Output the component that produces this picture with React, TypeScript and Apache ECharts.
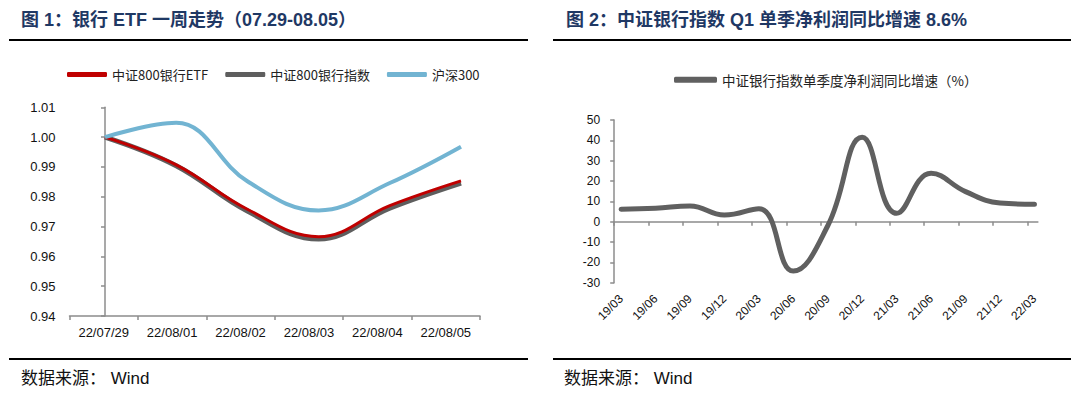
import React, { useEffect, useRef } from "react";
import * as echarts from "echarts";

// ---- Figure 1 data ----
const dates = ["22/07/29", "22/08/01", "22/08/02", "22/08/03", "22/08/04", "22/08/05"];
const etfValues = [1.0, 0.9907, 0.9758, 0.9666, 0.977, 0.9853];
const indexValues = [1.0, 0.9904, 0.9752, 0.9658, 0.9762, 0.9846];
const hs300Values = [1.0, 1.0048, 0.9852, 0.9754, 0.9846, 0.9968];

// ---- Figure 2 data ----
const quarters = ["19/03", "19/06", "19/09", "19/12", "20/03", "20/06", "20/09", "20/12", "21/03", "21/06", "21/09", "21/12", "22/03"];
const profitGrowth = [6.1, 6.6, 7.7, 3.3, 6.4, -24.3, -2.0, 41.5, 4.1, 23.8, 14.8, 9.2, 8.6];

const seriesNames = ["中证800银行ETF", "中证800银行指数", "沪深300"];
const rightSeriesName = "中证银行指数单季度净利润同比增速（%）";

const FONT = "'Liberation Sans', Arial, 'Noto Sans CJK SC', sans-serif";
const CJK = "'Noto Sans CJK SC', 'Liberation Sans', sans-serif";

export default function App() {
  const ref = useRef<HTMLDivElement>(null);

  useEffect(() => {
    document.body.style.margin = "0";
    const chart = echarts.init(ref.current!, undefined, { renderer: "svg" });

    const tickPos = quarters.map((_, i) => i - 0.2);
    const labelPos = quarters.map((_, i) => i);
    const axisGray = "#8c8c8c";

    const leftSeries = (name: string, values: number[], color: string, width: number, z: number) => ({
      name,
      type: "line",
      xAxisIndex: 3,
      yAxisIndex: 0,
      data: values.map((v, i) => [i, v]),
      smooth: 0.4,
      symbol: "none",
      color,
      lineStyle: { width, color },
      z,
    });

    const option: any = {
      animation: false,
      backgroundColor: "#ffffff",
      textStyle: { fontFamily: FONT },
      legend: [
        {
          data: seriesNames,
          left: 62,
          top: 63,
          icon: "roundRect",
          itemWidth: 40,
          itemHeight: 5,
          itemGap: 17,
          textStyle: { fontSize: 13, color: "#222", fontFamily: CJK },
        },
        {
          data: [rightSeriesName],
          left: 669,
          top: 68,
          icon: "roundRect",
          itemWidth: 43,
          itemHeight: 6,
          textStyle: { fontSize: 13.5, color: "#222", fontFamily: CJK },
        },
      ],
      grid: [
        { left: 69.5, top: 107.3, width: 410.5, height: 208.7 },
        { left: 614.2, top: 120, width: 423.7, height: 162.7 },
      ],
      xAxis: [
        {
          type: "category",
          gridIndex: 0,
          data: dates,
          boundaryGap: true,
          axisLine: { lineStyle: { color: axisGray, width: 1.5 } },
          axisTick: { show: true, length: 4, lineStyle: { color: axisGray, width: 1.5 } },
          axisLabel: { fontSize: 13, color: "#111", margin: 10, fontFamily: FONT },
          splitLine: { show: false },
        },
        {
          type: "value",
          gridIndex: 1,
          min: -0.2,
          max: 12.1,
          axisLine: { show: true, onZero: true, lineStyle: { color: axisGray, width: 1.5 } },
          axisTick: { show: true, length: 4, customValues: tickPos, lineStyle: { color: axisGray, width: 1.5 } },
          axisLabel: { show: false },
          splitLine: { show: false },
        },
        {
          type: "value",
          gridIndex: 1,
          min: -0.2,
          max: 12.1,
          position: "bottom",
          axisLine: { show: false, onZero: false },
          axisTick: { show: false },
          axisLabel: {
            show: true,
            customValues: labelPos,
            formatter: (v: number) => quarters[Math.round(v)] ?? "",
            rotate: 45,
            fontSize: 12,
            color: "#111",
            margin: 14,
            fontFamily: FONT,
          },
          splitLine: { show: false },
        },
        {
          type: "value",
          gridIndex: 0,
          show: false,
          min: -0.4986,
          max: 5.267,
          splitLine: { show: false },
        },
      ],
      yAxis: [
        {
          type: "value",
          gridIndex: 0,
          min: 0.94,
          max: 1.01,
          interval: 0.01,
          axisLine: { show: true, lineStyle: { color: axisGray, width: 1.5 } },
          axisTick: { show: true, length: 4, lineStyle: { color: axisGray, width: 1.5 } },
          axisLabel: { fontSize: 13, color: "#111", margin: 14, formatter: (v: number) => v.toFixed(2), fontFamily: FONT },
          splitLine: { show: false },
        },
        {
          type: "value",
          gridIndex: 1,
          min: -30,
          max: 50,
          interval: 10,
          axisLine: { show: true, onZero: false, lineStyle: { color: axisGray, width: 1.5 } },
          axisTick: { show: true, length: 4, lineStyle: { color: axisGray, width: 1.5 } },
          axisLabel: { fontSize: 12, color: "#111", margin: 14, fontFamily: FONT },
          splitLine: { show: false },
        },
      ],
      series: [
        leftSeries(seriesNames[1], indexValues, "#5e5e5e", 5, 2),
        leftSeries(seriesNames[0], etfValues, "#c00000", 3, 3),
        leftSeries(seriesNames[2], hs300Values, "#72b4d2", 4, 4),
        {
          name: rightSeriesName,
          type: "line",
          xAxisIndex: 1,
          yAxisIndex: 1,
          data: profitGrowth.map((v, i) => [i, v]),
          smooth: 0.45,
          symbol: "none",
          color: "#606060",
          lineStyle: { width: 5, color: "#606060", cap: "round" },
          z: 3,
        },
      ],
      graphic: [
        {
          type: "text",
          left: 21,
          top: 11,
          style: { text: "图 1：银行 ETF 一周走势（07.29-08.05）", fill: "#1f3864", font: `bold 18px ${FONT}` },
        },
        {
          type: "text",
          left: 566,
          top: 11,
          style: { text: "图 2：中证银行指数 Q1 单季净利润同比增速 8.6%", fill: "#1f3864", font: `bold 18px ${FONT}` },
        },
        { type: "line", shape: { x1: 9, y1: 40, x2: 528, y2: 40 }, style: { stroke: "#000", lineWidth: 2 } },
        { type: "line", shape: { x1: 553, y1: 40, x2: 1071, y2: 40 }, style: { stroke: "#000", lineWidth: 2 } },
        { type: "line", shape: { x1: 9, y1: 359, x2: 528, y2: 359 }, style: { stroke: "#000", lineWidth: 2 } },
        { type: "line", shape: { x1: 553, y1: 359, x2: 1071, y2: 359 }, style: { stroke: "#000", lineWidth: 2 } },
        {
          type: "text",
          left: 21,
          top: 370,
          style: { text: "数据来源： Wind", fill: "#111", font: `17px ${FONT}` },
        },
        {
          type: "text",
          left: 564,
          top: 370,
          style: { text: "数据来源： Wind", fill: "#111", font: `17px ${FONT}` },
        },
      ],
    };

    chart.setOption(option);
    return () => chart.dispose();
  }, []);

  return <div ref={ref} style={{ width: 1080, height: 398 }} />;
}
